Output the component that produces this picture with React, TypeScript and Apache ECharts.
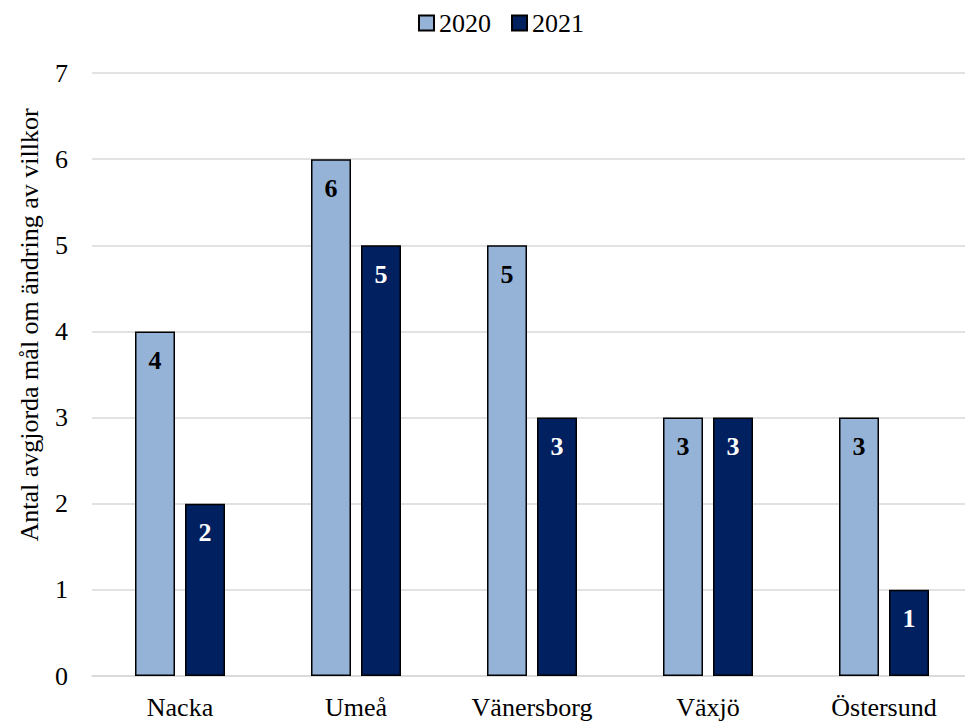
import React, { useEffect, useRef } from "react";
import * as echarts from "echarts";

const categories = ["Nacka", "Umeå", "Vänersborg", "Växjö", "Östersund"];
const series2020 = [4, 6, 5, 3, 3];
const series2021 = [2, 5, 3, 3, 1];
const seriesNames = ["2020", "2021"];
const yTicks = { min: 0, max: 7, interval: 1 };
const yTitle = "Antal avgjorda mål om ändring av villkor";

const FONT = "'Liberation Serif', 'Times New Roman', serif";

export default function App() {
  const ref = useRef<HTMLDivElement>(null);
  useEffect(() => {
    if (!ref.current) return;
    const chart = echarts.init(ref.current, undefined, { renderer: "svg" });
    const labelBase = {
      show: true,
      position: "insideTop",
      distance: 16,
      fontFamily: FONT,
      fontSize: 26,
      fontWeight: "bold",
    };
    chart.setOption({
      animation: false,
      textStyle: { fontFamily: FONT },
      legend: {
        top: 5,
        left: 413,
        icon: "rect",
        itemWidth: 15,
        itemHeight: 15,
        itemGap: 20,
        textStyle: { fontFamily: FONT, fontSize: 26, color: "#000" },
        data: seriesNames,
      },
      graphic: [
        {
          type: "text",
          x: 29,
          y: 325,
          rotation: Math.PI / 2,
          style: {
            text: yTitle,
            fontFamily: FONT,
            fontSize: 26,
            fill: "#000",
            align: "center",
            verticalAlign: "middle",
          },
        },
      ],
      grid: { left: 92, width: 880, top: 73, bottom: 46, containLabel: false },
      xAxis: {
        type: "category",
        data: categories,
        axisLine: { lineStyle: { color: "#d9d9d9", width: 1.5 } },
        axisTick: { show: false },
        axisLabel: { fontFamily: FONT, fontSize: 26, color: "#000", margin: 18 },
      },
      yAxis: {
        type: "value",
        min: yTicks.min,
        max: yTicks.max,
        interval: yTicks.interval,
        axisLine: { show: false },
        axisTick: { show: false },
        splitLine: { lineStyle: { color: "#d9d9d9", width: 1.5 } },
        axisLabel: { fontFamily: FONT, fontSize: 26, color: "#000", margin: 24 },
      },
      series: [
        {
          name: seriesNames[0],
          type: "bar",
          data: series2020,
          barWidth: 40,
          barGap: "25%",
          itemStyle: { color: "#95b3d7", borderColor: "#000", borderWidth: 1.5 },
          label: { ...labelBase, color: "#000" },
        },
        {
          name: seriesNames[1],
          type: "bar",
          data: series2021,
          barWidth: 40,
          barGap: "25%",
          itemStyle: { color: "#002060", borderColor: "#000", borderWidth: 1.5 },
          label: { ...labelBase, color: "#fff" },
        },
      ],
    });
    return () => chart.dispose();
  }, []);
  return (
    <div
      style={{ position: "fixed", left: 0, top: 0, width: 965, height: 722, background: "#fff", overflow: "hidden" }}
    >
      <div ref={ref} style={{ width: 980, height: 722 }} />
    </div>
  );
}
